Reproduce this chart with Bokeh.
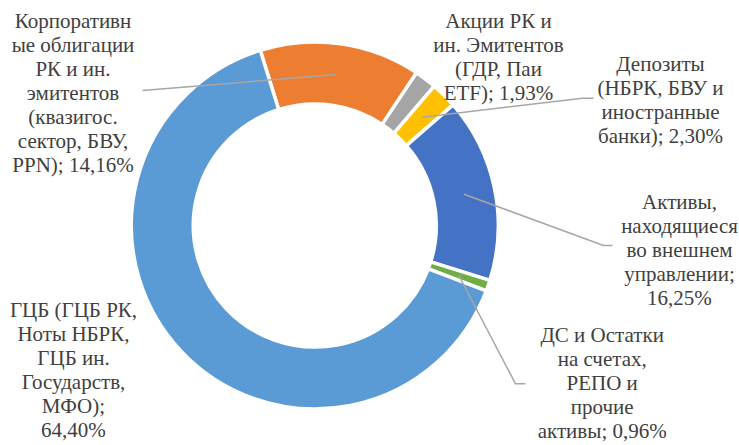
import math
from bokeh.plotting import figure
from bokeh.models import Range1d, ColumnDataSource
from bokeh.core.properties import value
from bokeh.embed import file_html
from bokeh.resources import INLINE

# ---- data ----
categories = [
    "Корпоративные облигации РК и ин. эмитентов (квазигос. сектор, БВУ, PPN)",
    "Акции РК и ин. Эмитентов (ГДР, Паи ETF)",
    "Депозиты (НБРК, БВУ и иностранные банки)",
    "Активы, находящиеся во внешнем управлении",
    "ДС и Остатки на счетах, РЕПО и прочие активы",
    "ГЦБ (ГЦБ РК, Ноты НБРК, ГЦБ ин. Государств, МФО)",
]
values = [14.16, 1.93, 2.30, 16.25, 0.96, 64.40]
label_lines = [
    ["Корпоративн", "ые облигации", "РК и ин.", "эмитентов", "(квазигос.", "сектор, БВУ,"],
    ["Акции РК и", "ин. Эмитентов", "(ГДР, Паи"],
    ["Депозиты", "(НБРК, БВУ и", "иностранные"],
    ["Активы,", "находящиеся", "во внешнем", "управлении;"],
    ["ДС и Остатки", "на счетах,", "РЕПО и", "прочие"],
    ["ГЦБ (ГЦБ РК,", "Ноты НБРК,", "ГЦБ ин.", "Государств,", "МФО);"],
]
last_line_prefix = ["PPN); ", "ETF); ", "банки); ", "", "активы; ", ""]
colors = ["#ED7D31", "#A5A5A5", "#FFC000", "#4472C4", "#70AD47", "#5B9BD5"]

# ---- layout (data units = screen pixels, y measured upward) ----
W, H = 739, 445
cx, cy = 314.3, 220.0
r_out, r_in = 183.5, 121.5
start_deg = 107.3  # counterclockwise from +x, slices go clockwise

label_pos = [(72.5, 352.5), (498, 389), (660, 345.5), (679, 196), (601.7, 62.5), (73, 75.5)]
leader_ends = [
    [(142, 355)],
    None,
    [(582, 347.3), (593, 347.3)],
    [(603, 200), (612, 200)],
    [(515, 61.7), (525, 61.7)],
    None,
]

def fmt(v):
    return ("%.2f" % v).replace(".", ",") + "%"

total = sum(values)
starts, ends, mids = [], [], []
cum = 0.0
for v in values:
    a0 = math.radians(start_deg - cum / total * 360)
    a1 = math.radians(start_deg - (cum + v) / total * 360)
    am = math.radians(start_deg - (cum + v / 2) / total * 360)
    starts.append(a0); ends.append(a1); mids.append(am)
    cum += v

p = figure(width=W, height=H, output_backend="svg", toolbar_location=None,
           x_range=Range1d(0, W), y_range=Range1d(0, H),
           x_axis_type=None, y_axis_type=None, min_border=0)
p.grid.visible = False
p.outline_line_color = None
p.background_fill_color = "white"

src = ColumnDataSource(dict(x=[cx] * len(values), y=[cy] * len(values),
                            s=starts, e=ends, c=colors))
p.annular_wedge(x="x", y="y", inner_radius=r_in, outer_radius=r_out,
                start_angle="s", end_angle="e", direction="clock",
                fill_color="c", line_color="white", line_width=3.5, source=src)

# leader lines
xs, ys = [], []
r_mid = 152.5
for i, ends_i in enumerate(leader_ends):
    if ends_i is None:
        continue
    px = [cx + r_mid * math.cos(mids[i])] + [q[0] for q in ends_i]
    py = [cy + r_mid * math.sin(mids[i])] + [q[1] for q in ends_i]
    xs.append(px); ys.append(py)
p.multi_line(xs=xs, ys=ys, line_color="#A6A6A6", line_width=1.5)

texts = []
for i in range(len(values)):
    lines = list(label_lines[i]) + [last_line_prefix[i] + fmt(values[i])]
    texts.append("\n".join(lines))

p.text(x=[q[0] for q in label_pos], y=[q[1] for q in label_pos], text=texts,
       text_align="center", text_baseline="middle",
       text_font=value("Liberation Serif"), text_font_size="21px",
       text_color="#404040", text_line_height=1.0)

open("out.html", "w").write(file_html(p, INLINE))
